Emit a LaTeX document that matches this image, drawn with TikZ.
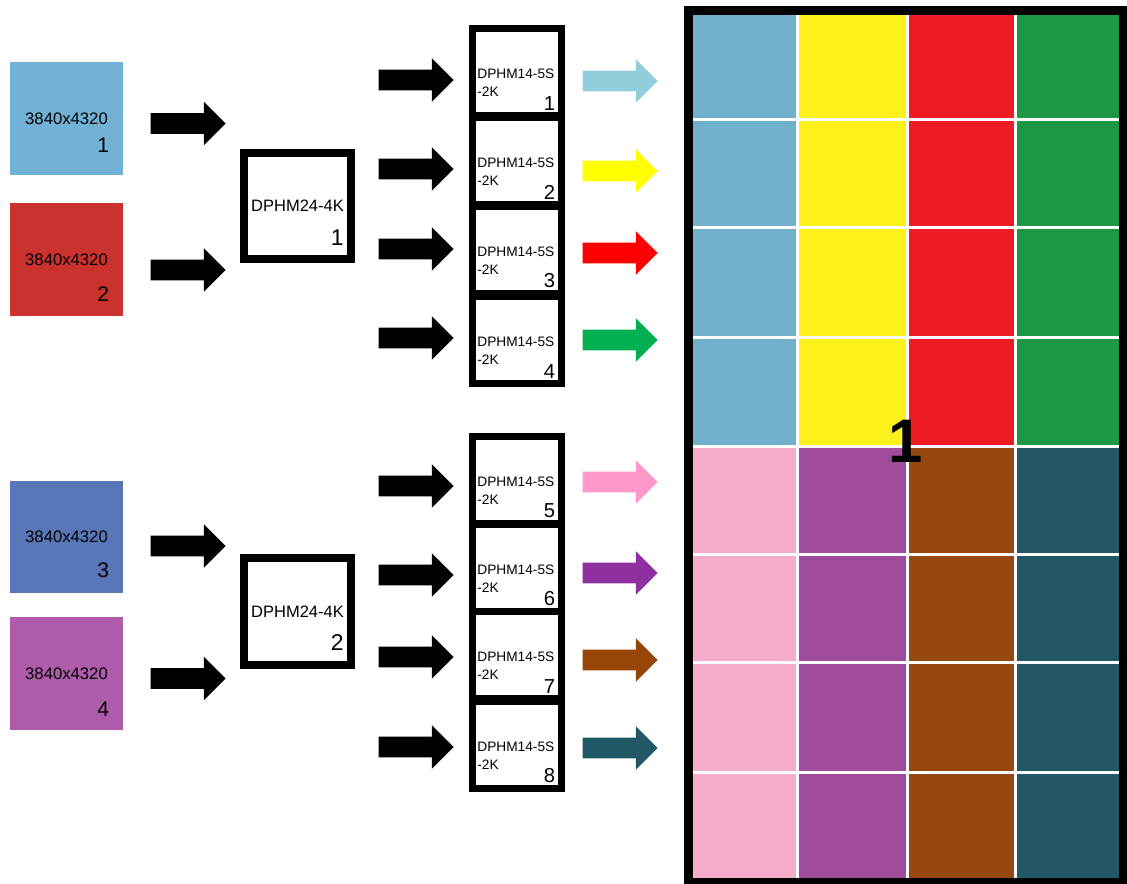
\documentclass[tikz,border=0pt]{standalone}
\usepackage{fontspec}
\setmainfont{Liberation Sans}
\usetikzlibrary{
  shapes.arrows,
  positioning,
  calc,
}
\definecolor{srcA}{RGB}{112,177,213}
\definecolor{srcB}{RGB}{204,50,45}
\definecolor{srcC}{RGB}{88,118,184}
\definecolor{srcD}{RGB}{176,92,172}
\definecolor{cellA}{RGB}{112,176,203}
\definecolor{cellB}{RGB}{252,241,26}
\definecolor{cellC}{RGB}{237,28,36}
\definecolor{cellD}{RGB}{31,150,67}
\definecolor{cellE}{RGB}{245,171,202}
\definecolor{cellF}{RGB}{160,75,155}
\definecolor{cellG}{RGB}{150,72,16}
\definecolor{cellH}{RGB}{34,88,101}
\definecolor{outA}{RGB}{146,205,220}
\definecolor{outB}{RGB}{255,255,0}
\definecolor{outC}{RGB}{255,0,0}
\definecolor{outD}{RGB}{0,176,80}
\definecolor{outE}{RGB}{255,153,204}
\definecolor{outF}{RGB}{143,48,160}
\definecolor{outG}{RGB}{151,72,6}
\definecolor{outH}{RGB}{33,88,104}
\tikzset{
  srcbox/.style={
    rectangle, minimum width=2.26cm, minimum height=2.26cm,
    inner sep=0pt, font=\fontsize{9.5pt}{11pt}\selectfont
  },
  srcnum/.style={inner sep=0pt, font=\fontsize{12pt}{14pt}\selectfont},
  hubbox/.style={
    rectangle, draw=black, line width=0.16cm, fill=white,
    minimum width=2.14cm, minimum height=2.14cm,
    inner sep=0pt, font=\fontsize{9.4pt}{11pt}\selectfont
  },
  hubnum/.style={inner sep=0pt, font=\fontsize{13pt}{15pt}\selectfont},
  cardbox/.style={
    rectangle, draw=black, line width=0.14cm, fill=white,
    minimum width=1.78cm, minimum height=1.74cm, inner sep=0pt
  },
  cardtext/.style={inner sep=0pt, align=left, font=\fontsize{7.8pt}{10.2pt}\selectfont},
  cardnum/.style={inner sep=0pt, font=\fontsize{11.5pt}{13pt}\selectfont},
  blkarrow/.style={
    single arrow, draw=none, fill=black, inner xsep=0pt, inner ysep=0.2cm,
    minimum height=1.5cm, minimum width=0.86cm,
    single arrow head extend=0.23cm, single arrow tip angle=90
  },
  outarrow/.style={blkarrow, fill=#1},
  gridline/.style={white, line width=0.06cm},
}
\begin{document}
\begin{tikzpicture}[x=0.02cm, y=-0.02cm]
  \useasboundingbox (0,0) rectangle (1127,884);

  % ── Sources ──
  \node[srcbox, fill=srcA] (src1) at (66.5,118.5) {3840x4320};
  \node[srcbox, fill=srcB] (src2) at (66.5,259.5) {3840x4320};
  \node[srcbox, fill=srcC] (src3) at (66.5,537)   {3840x4320};
  \node[srcbox, fill=srcD] (src4) at (66.5,673.5) {3840x4320};
  \node[srcnum, anchor=south east] (src1n) at ([shift={(-14,-22)}]src1.south east) {1};
  \node[srcnum, anchor=south east] (src2n) at ([shift={(-14,-14)}]src2.south east) {2};
  \node[srcnum, anchor=south east] (src3n) at ([shift={(-14,-16)}]src3.south east) {3};
  \node[srcnum, anchor=south east] (src4n) at ([shift={(-14,-13)}]src4.south east) {4};

  % ── Input arrows ──
  \foreach \n/\y in {1/123.5, 2/270, 3/546, 4/678.5}
    \node[blkarrow] (feed\n) at (183,\y) {};

  % ── Splitters ──
  \node[hubbox] (hub1) at (297.5,206)   {DPHM24-4K};
  \node[hubbox] (hub2) at (297.5,611.5) {DPHM24-4K};
  \node[hubnum, anchor=south east] (hub1n) at ([shift={(-11,-18)}]hub1.south east) {1};
  \node[hubnum, anchor=south east] (hub2n) at ([shift={(-11,-18)}]hub2.south east) {2};

  % ── Cards ──
  \foreach \n/\y/\ya in {1/72/80, 2/161/169, 3/250/249, 4/340/338,
                         5/480/486, 6/568/575, 7/655/657, 8/745/747} {
    \node[blkarrow] (link\n) at (411,\ya) {};
    \node[cardbox] (card\n) at (517,\y) {};
    \node[cardtext, anchor=north west] (card\n t) at ([shift={(8,43.5)}]card\n.north west) {DPHM14-5S\\-2K};
    \node[cardnum, anchor=south east] (card\n n) at ([shift={(-9.5,-8.5)}]card\n.south east) {\n};
  }

  % ── Output arrows ──
  \foreach \n/\y/\c in {1/81/outA, 2/171/outB, 3/253/outC, 4/340/outD,
                        5/482/outE, 6/573/outF, 7/660/outG, 8/748/outH}
    \node[outarrow=\c] (out\n) at (615,\y) {};

  % ── Video wall ──
  \fill[cellA] (693,15)  rectangle (797,447);
  \fill[cellB] (797,15)  rectangle (907,447);
  \fill[cellC] (907,15)  rectangle (1015,447);
  \fill[cellD] (1015,15) rectangle (1119,447);
  \fill[cellE] (693,447)  rectangle (797,878);
  \fill[cellF] (797,447)  rectangle (907,878);
  \fill[cellG] (907,447)  rectangle (1015,878);
  \fill[cellH] (1015,447) rectangle (1119,878);
  \foreach \x in {797, 907, 1015}
    \draw[gridline] (\x,15) -- (\x,878);
  \foreach \y in {120, 228, 338, 447, 555, 663, 773}
    \draw[gridline] (693,\y) -- (1119,\y);
  \node[draw=black, line width=0.18cm, minimum width=8.7cm, minimum height=17.44cm,
        inner sep=0pt] (wall) at (906,446.5) {};
  \node[font=\bfseries\fontsize{35pt}{40pt}\selectfont, inner sep=0pt] (wallno)
    at ([yshift=3]wall.center) {1};

\end{tikzpicture}
\end{document}
